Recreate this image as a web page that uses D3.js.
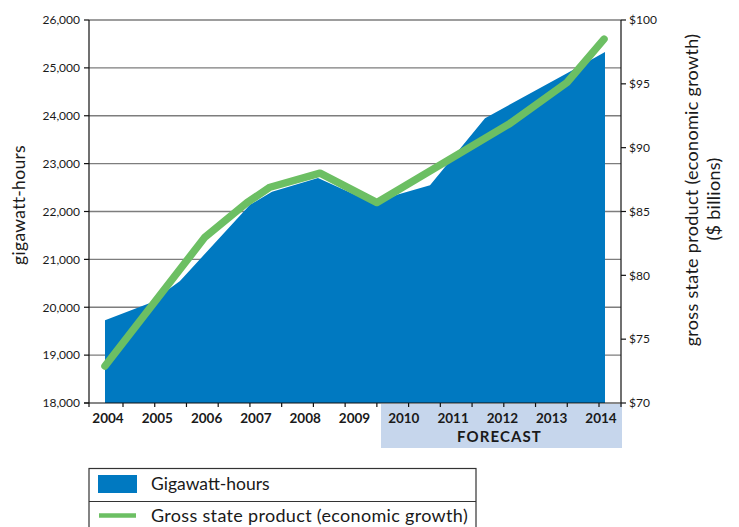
<!DOCTYPE html>
<html><head><meta charset="utf-8">
<script src="https://cdn.jsdelivr.net/npm/d3@7"></script>
<style>
body{margin:0;background:#fff}
text{font-family:Lato, "Open Sans", sans-serif; fill:#1a1a1a}
</style>
</head><body>
<svg id="c" width="739" height="527"></svg>
<script>
// ---- data ----
const years = [2004,2005,2006,2007,2008,2009,2010,2011,2012,2013,2014];
const forecastYears = [2010,2014];
const leftTicks = [18000,19000,20000,21000,22000,23000,24000,25000,26000];
const rightTicks = [70,75,80,85,90,95,100];
// Gigawatt-hours (area), positions read along the time axis
const gwhYear  = [2004.00,2004.90,2005.50,2006.90,2007.34,2008.26,2009.44,2009.84,2010.50,2011.60,2013.24,2014.00];
const gwhValue = [19730,20090,20550,22140,22410,22700,22140,22350,22550,23950,24890,25330];
// Gross state product ($ billions, line)
const gspYear  = [2004.00,2006.00,2006.84,2007.30,2008.30,2009.44,2012.10,2013.24,2013.98];
const gspValue = [72.9,83.0,85.7,86.9,88.0,85.7,91.9,95.1,98.5];
const seriesNames = ["Gigawatt-hours","Gross state product (economic growth)"];

const BLUE = "#0079C1", GREEN = "#6CBF63", BAND = "#C6D6EC";

const svg = d3.select("#c");
const x = d3.scaleLinear().domain([2004,2014]).range([105,605]);
const xl = d3.scaleLinear().domain([2004,2014]).range([108,601]);
const yL = d3.scaleLinear().domain([18000,26000]).range([403,20]);
const yR = d3.scaleLinear().domain([70,100]).range([403,20]);
const left = 89, right = 621, bottom = 403;

// forecast band
svg.append("rect").attr("x",381).attr("y",bottom+1).attr("width",right+1-381).attr("height",44).attr("fill",BAND);

// gridlines
svg.append("g").selectAll("line").data(leftTicks.slice(1)).join("line")
  .attr("x1",left).attr("x2",right).attr("y1",d=>yL(d)).attr("y2",d=>yL(d))
  .attr("stroke","#7d7d7d").attr("stroke-width",1.3);

// area
const pts = gwhYear.map((t,i)=>[t,gwhValue[i]]);
svg.append("path").datum(pts)
  .attr("d", d3.area().x(d=>x(d[0])).y0(yL(18000)).y1(d=>yL(d[1])))
  .attr("fill",BLUE);

// line
const lp = gspYear.map((t,i)=>[t,gspValue[i]]);
svg.append("path").datum(lp)
  .attr("d", d3.line().x(d=>x(d[0])).y(d=>yR(d[1])))
  .attr("fill","none").attr("stroke",GREEN).attr("stroke-width",7.5)
  .attr("stroke-linecap","round").attr("stroke-linejoin","round");

// axes
const ax = svg.append("g").attr("stroke","#111").attr("stroke-width",1.2);
ax.append("line").attr("x1",left).attr("x2",left).attr("y1",20).attr("y2",bottom+4);
ax.append("line").attr("x1",right).attr("x2",right).attr("y1",20).attr("y2",bottom+4);
ax.append("line").attr("x1",left-5).attr("x2",right).attr("y1",bottom).attr("y2",bottom);
ax.selectAll(".lt").data(leftTicks).join("line").attr("class","lt")
  .attr("x1",left-5).attr("x2",left).attr("y1",d=>yL(d)).attr("y2",d=>yL(d));
ax.selectAll(".rt").data(rightTicks).join("line").attr("class","rt")
  .attr("x1",right).attr("x2",right+5).attr("y1",d=>yR(d)).attr("y2",d=>yR(d));
const tk = d3.scaleLinear().domain([0,15]).range([123,599]);
ax.selectAll(".bt").data(d3.range(16)).join("line").attr("class","bt")
  .attr("x1",d=>tk(d)).attr("x2",d=>tk(d)).attr("y1",bottom).attr("y2",bottom+4);

// tick labels
svg.append("g").selectAll("text").data(leftTicks).join("text")
  .attr("x",80).attr("y",d=>yL(d)).attr("dy","0.36em").attr("text-anchor","end")
  .attr("font-size",12).text(d=>d3.format(",")(d));
svg.append("g").selectAll("text").data(rightTicks).join("text")
  .attr("x",629).attr("y",d=>yR(d)).attr("dy","0.36em")
  .attr("font-size",12).text(d=>"$"+d);
svg.append("g").selectAll("text").data(years).join("text")
  .attr("x",d=>xl(d)).attr("y",423).attr("text-anchor","middle")
  .attr("font-size",13.5).attr("font-weight","bold").text(d=>d);
svg.append("text").attr("x",(xl(forecastYears[0])+xl(forecastYears[1]))/2 - 3).attr("y",442)
  .attr("text-anchor","middle").attr("font-size",15).attr("letter-spacing",1.1)
  .attr("font-weight","bold").text("FORECAST");

// axis titles
svg.append("text").attr("transform","translate(25,205) rotate(-90)").attr("text-anchor","middle")
  .attr("font-size",17.5).attr("letter-spacing",0.3).text("gigawatt-hours");
svg.append("text").attr("transform","translate(698,190) rotate(-90)").attr("text-anchor","middle")
  .attr("font-size",18).attr("letter-spacing",0.3).text("gross state product (economic growth)");
svg.append("text").attr("transform","translate(720,199) rotate(-90)").attr("text-anchor","middle")
  .attr("font-size",18).attr("letter-spacing",0.3).text("($ billions)");

// legend
const lg = svg.append("g");
lg.append("rect").attr("x",89).attr("y",468.5).attr("width",387).attr("height",80)
  .attr("fill","none").attr("stroke","#333").attr("stroke-width",1.2);
lg.append("line").attr("x1",89).attr("x2",476).attr("y1",501.5).attr("y2",501.5)
  .attr("stroke","#333").attr("stroke-width",1.2);
lg.append("rect").attr("x",98).attr("y",475).attr("width",39).attr("height",18).attr("fill",BLUE);
lg.append("line").attr("x1",99).attr("x2",136).attr("y1",515.5).attr("y2",515.5)
  .attr("stroke",GREEN).attr("stroke-width",4.5);
lg.append("text").attr("x",151).attr("y",490).attr("font-size",17.5).text(seriesNames[0]);
lg.append("text").attr("x",151).attr("y",521.5).attr("font-size",18).attr("letter-spacing",0.32).text(seriesNames[1]);
</script>
</body></html>
